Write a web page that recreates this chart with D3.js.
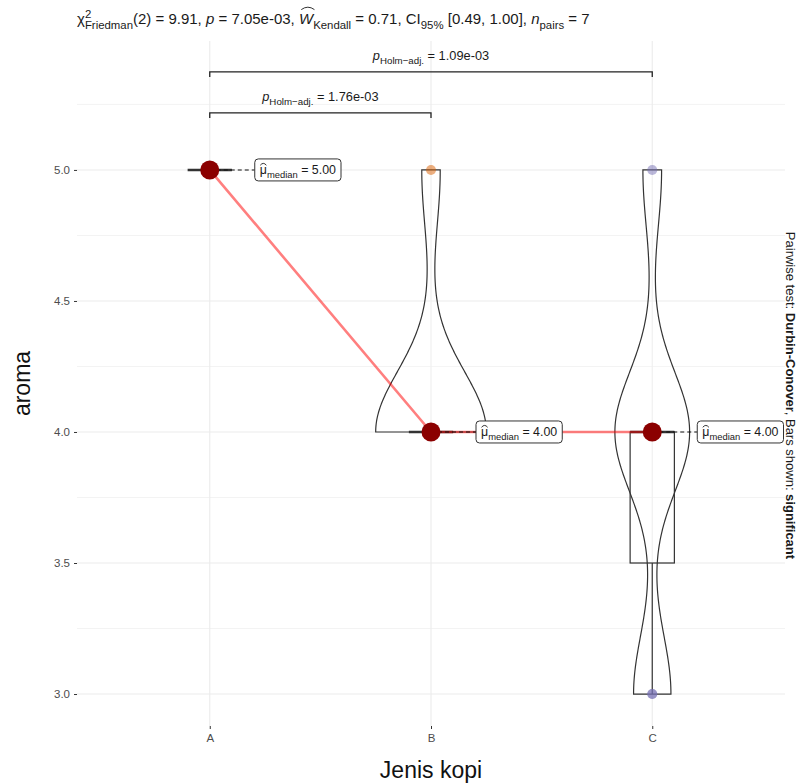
<!DOCTYPE html>
<html>
<head>
<meta charset="utf-8">
<script src="https://cdn.jsdelivr.net/npm/d3@7"></script>
<style>
  body { margin: 0; background: #fff; }
  svg { font-family: "Liberation Sans", Arial, sans-serif; }
  svg text { white-space: pre; }
</style>
</head>
<body>
<div id="chart"></div>
<script>
// ---- data ----
var groups = ["A", "B", "C"];
var valuesA = [5, 5, 5, 5, 5, 5, 5];
var valuesB = [4, 4, 4, 4, 4, 4, 5];
var valuesC = [3, 3, 4, 4, 4, 4, 5];
var groupColors = ["#1B9E77", "#D95F02", "#7570B3"];
var yTicks = [3.0, 3.5, 4.0, 4.5, 5.0];
var pairGroup1 = ["A", "A"];
var pairGroup2 = ["B", "C"];
var pairP = ["1.76e-03", "1.09e-03"];
var statChi = "9.91", statDf = "2", statP = "7.05e-03", statW = "0.71", statCI = ["0.49", "1.00"], statN = "7";

var width = 804, height = 784;
var panel = { left: 77, right: 785, top: 41, bottom: 726 };

var svg = d3.select("#chart").append("svg")
  .attr("width", width)
  .attr("height", height);

var x = d3.scalePoint().domain(groups).range([panel.left, panel.right]).padding(0.6);
var y = d3.scaleLinear().domain([2.878, 5.492]).range([panel.bottom, panel.top]);
var unit = x.step();

var data = groups.map(function (g, i) {
  var v = [valuesA, valuesB, valuesC][i].slice().sort(d3.ascending);
  return { group: g, values: v, color: groupColors[i], median: d3.median(v) };
});

// gridlines
var grid = svg.append("g");
d3.range(3.25, 5.5, 0.5).forEach(function (v) {
  grid.append("line").attr("x1", panel.left).attr("x2", panel.right)
    .attr("y1", y(v)).attr("y2", y(v)).attr("stroke", "#f3f3f3").attr("stroke-width", 1);
});
yTicks.forEach(function (v) {
  grid.append("line").attr("x1", panel.left).attr("x2", panel.right)
    .attr("y1", y(v)).attr("y2", y(v)).attr("stroke", "#ebebeb").attr("stroke-width", 1.1);
});
groups.forEach(function (g) {
  grid.append("line").attr("x1", x(g)).attr("x2", x(g))
    .attr("y1", panel.top).attr("y2", panel.bottom).attr("stroke", "#ebebeb").attr("stroke-width", 1.1);
});

// axes
var yAxis = svg.append("g").attr("transform", `translate(${panel.left},0)`)
  .call(d3.axisLeft(y).tickValues(yTicks).tickFormat(d3.format(".1f")).tickSize(3).tickPadding(4));
var xAxis = svg.append("g").attr("transform", `translate(0,${panel.bottom})`)
  .call(d3.axisBottom(x).tickSize(3).tickPadding(5));
[yAxis, xAxis].forEach(function (a) {
  a.select(".domain").remove();
  a.selectAll(".tick line").attr("stroke", "#333");
  a.selectAll(".tick text").attr("fill", "#4d4d4d").attr("font-size", 11.5)
    .attr("font-family", "Liberation Sans, Arial, sans-serif");
});

svg.append("text").attr("transform", `translate(30,${(panel.top + panel.bottom) / 2}) rotate(-90)`)
  .attr("text-anchor", "middle").attr("font-size", 23).attr("fill", "#111").text("aroma");
svg.append("text").attr("x", (panel.left + panel.right) / 2).attr("y", 778)
  .attr("text-anchor", "middle").attr("font-size", 23).attr("fill", "#111").text("Jenis kopi");

// violins (gaussian kde, bw.nrd0, trimmed, scale = "area")
function bwNrd0(v) {
  var hi = d3.deviation(v);
  var lo = Math.min(hi, (d3.quantile(v, 0.75) - d3.quantile(v, 0.25)) / 1.34);
  if (!lo) lo = hi || Math.abs(v[0]) || 1;
  return 0.9 * lo * Math.pow(v.length, -0.2);
}
data.forEach(function (d) {
  var lo = d3.min(d.values), hi = d3.max(d.values);
  if (hi - lo <= 0) { d.dens = null; return; }
  var bw = bwNrd0(d.values), n = d.values.length;
  d.dens = d3.range(0, 513).map(function (i) {
    var t = lo + (hi - lo) * i / 512;
    var s = d3.sum(d.values, function (v) { var z = (t - v) / bw; return Math.exp(-0.5 * z * z); });
    return [t, s / (n * bw * Math.sqrt(2 * Math.PI))];
  });
});
var maxDens = d3.max(data.filter(function (d) { return d.dens; }), function (d) { return d3.max(d.dens, function (p) { return p[1]; }); });
var halfW = 0.25 * unit;
data.filter(function (d) { return d.dens; }).forEach(function (d) {
  var cx = x(d.group);
  var pts = d.dens.map(function (p) { return [cx + p[1] / maxDens * halfW, y(p[0])]; })
    .concat(d.dens.slice().reverse().map(function (p) { return [cx - p[1] / maxDens * halfW, y(p[0])]; }));
  svg.append("path").attr("d", d3.line()(pts) + "Z")
    .attr("fill", "#fff").attr("fill-opacity", 0.2).attr("stroke", "#333").attr("stroke-width", 1.2);
});

// boxplots
var boxW = 0.1 * unit;
data.forEach(function (d) {
  var cx = x(d.group);
  var q1 = d3.quantile(d.values, 0.25), q3 = d3.quantile(d.values, 0.75), iqr = q3 - q1;
  var wLo = d3.min(d.values.filter(function (v) { return v >= q1 - 1.5 * iqr; }));
  var wHi = d3.max(d.values.filter(function (v) { return v <= q3 + 1.5 * iqr; }));
  var b = svg.append("g").attr("stroke", "#333").attr("fill", "none");
  b.append("line").attr("x1", cx).attr("x2", cx).attr("y1", y(q1)).attr("y2", y(wLo)).attr("stroke-width", 1.2);
  b.append("line").attr("x1", cx).attr("x2", cx).attr("y1", y(q3)).attr("y2", y(wHi)).attr("stroke-width", 1.2);
  b.append("rect").attr("x", cx - boxW).attr("width", 2 * boxW)
    .attr("y", y(q3)).attr("height", Math.max(0, y(q1) - y(q3))).attr("stroke-width", 1.2);
  b.append("line").attr("x1", cx - boxW).attr("x2", cx + boxW)
    .attr("y1", y(d.median)).attr("y2", y(d.median)).attr("stroke-width", 2.6);
});

// individual points
data.forEach(function (d) {
  svg.append("g").selectAll("circle").data(d.values).join("circle")
    .attr("cx", x(d.group)).attr("cy", function (v) { return y(v); }).attr("r", 5)
    .attr("fill", d.color).attr("fill-opacity", 0.5);
});

// centrality path
svg.append("path")
  .attr("d", d3.line().x(function (d) { return x(d.group); }).y(function (d) { return y(d.median); })(data))
  .attr("fill", "none").attr("stroke", "red").attr("stroke-opacity", 0.5).attr("stroke-width", 2.6);

// rich text helper
function rich(g, segs, size) {
  var cx = 0;
  segs.forEach(function (s) {
    var small = s.sub || s.sup;
    var fs = small ? size * 0.76 : size;
    var dy = s.sub ? size * 0.32 : (s.sup ? -size * 0.42 : 0);
    var t = g.append("text").attr("x", cx).attr("y", dy).attr("font-size", fs)
      .attr("font-style", s.italic ? "italic" : null)
      .attr("font-weight", s.bold ? "bold" : null)
      .attr("fill", "#1a1a1a").text(s.t);
    var w = t.node().getComputedTextLength();
    if (s.hat) {
      var top = -size * (s.hat === "cap" ? 0.86 : 0.62);
      var sk = s.italic ? size * 0.12 : 0;
      g.append("path")
        .attr("d", `M${cx + 0.5 + sk},${top - 1.5} Q${cx + w / 2 + sk},${top - size * 0.42} ${cx + w - 0.5 + sk},${top - 1.5}`)
        .attr("fill", "none").attr("stroke", "#1a1a1a").attr("stroke-width", 0.9);
    }
    if (!s.stay) cx += w;
  });
  return cx;
}

// median labels
data.forEach(function (d) {
  var cx = x(d.group), cy = y(d.median);
  var lx = cx + 45;
  svg.append("line").attr("x1", cx).attr("x2", lx).attr("y1", cy).attr("y2", cy)
    .attr("stroke", "#111").attr("stroke-width", 1.1).attr("stroke-dasharray", "4,3");
  svg.append("circle").attr("cx", cx).attr("cy", cy).attr("r", 9.5).attr("fill", "#8B0000");
  var g = svg.append("g");
  var w = rich(g, [{ t: "μ", hat: "x" }, { t: "median", sub: true }, { t: " = " + d3.format(".2f")(d.median) }], 12.4);
  g.attr("transform", `translate(${lx + 5},${cy + 4.5})`);
  g.insert("rect", ":first-child").attr("x", -5).attr("y", -15.5).attr("width", w + 10).attr("height", 22)
    .attr("rx", 3.5).attr("fill", "#fff").attr("stroke", "#333").attr("stroke-width", 1);
});

// pairwise brackets
var bracketY = [5.2176, 5.374];
pairGroup1.forEach(function (g1, i) {
  var x1 = x(g1), x2 = x(pairGroup2[i]), by = y(bracketY[i]);
  svg.append("path").attr("d", `M${x1},${by + 5}V${by}H${x2}V${by + 5}`)
    .attr("fill", "none").attr("stroke", "#222").attr("stroke-width", 1.3);
  var g = svg.append("g");
  var w = rich(g, [{ t: "p", italic: true }, { t: "Holm\u2212adj.", sub: true }, { t: " = " + pairP[i] }], 12.8);
  g.attr("transform", `translate(${(x1 + x2) / 2 - w / 2},${by - 12})`);
});

// subtitle (test statistics)
var sub = svg.append("g").attr("transform", "translate(77,24)");
rich(sub, [
  { t: "χ" }, { t: "2", sup: true, stay: true }, { t: "Friedman", sub: true },
  { t: "(" + statDf + ") = " + statChi + ", " }, { t: "p", italic: true }, { t: " = " + statP + ", " },
  { t: "W", italic: true, hat: "cap" }, { t: "Kendall", sub: true }, { t: " = " + statW + ", CI" },
  { t: "95%", sub: true }, { t: " [" + statCI[0] + ", " + statCI[1] + "], " },
  { t: "n", italic: true }, { t: "pairs", sub: true }, { t: " = " + statN }
], 15);

// caption on the right
var cap = svg.append("g");
var cw = rich(cap, [
  { t: "Pairwise test: " }, { t: "Durbin-Conover", bold: true }, { t: ", Bars shown: " }, { t: "significant", bold: true }
], 13);
cap.attr("transform", `translate(786,${(panel.top + panel.bottom) / 2 + 12 - cw / 2}) rotate(90)`);
</script>
</body>
</html>
